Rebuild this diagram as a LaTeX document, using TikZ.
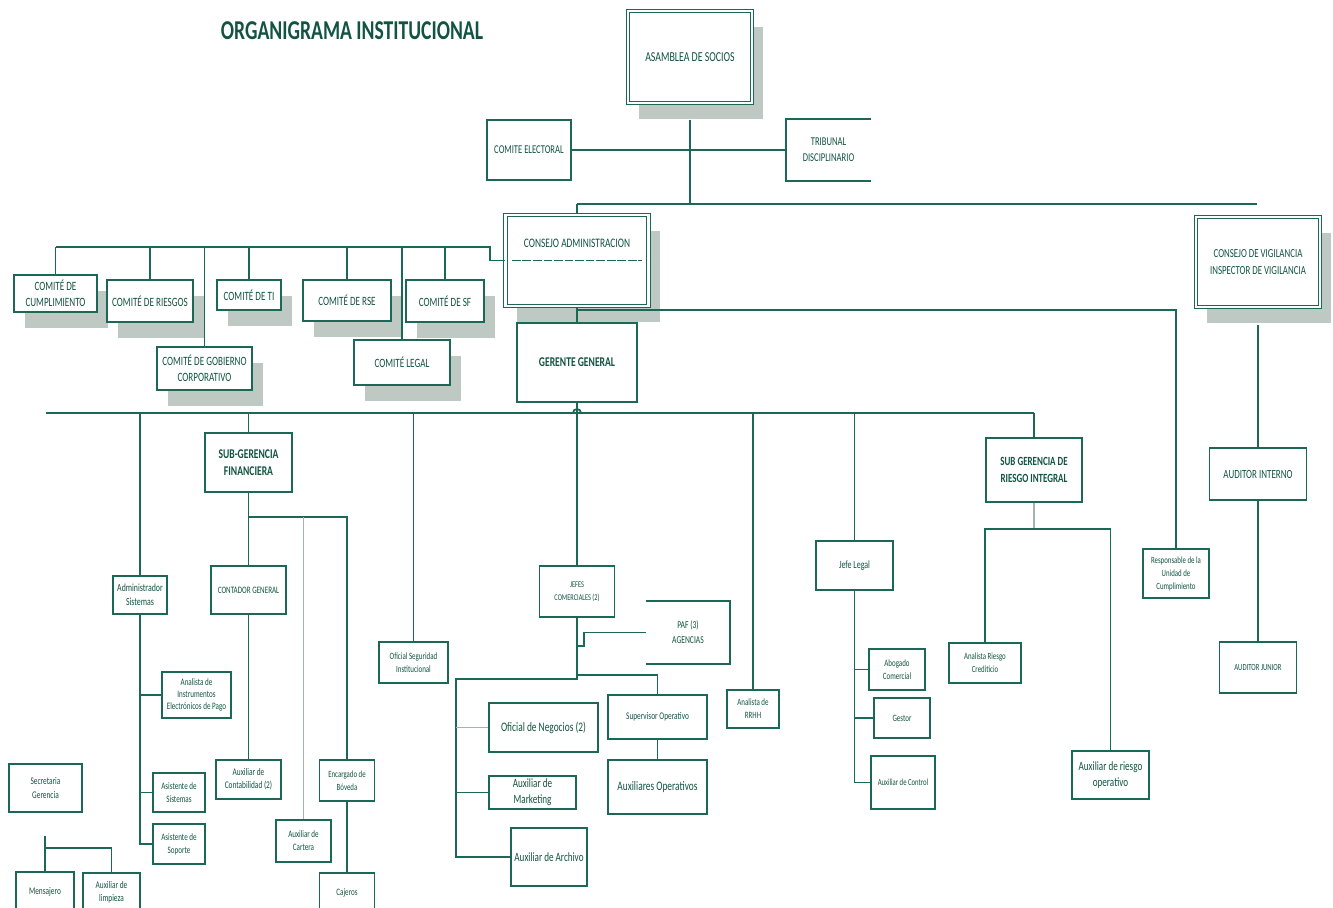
\documentclass[tikz,border=0pt]{standalone}
\usepackage{fontspec}
\setmainfont{Carlito}[FakeStretch=0.72]
\usetikzlibrary{shadows}

\definecolor{verde}{RGB}{28,104,86}
\definecolor{verdeT}{RGB}{18,84,64}
\definecolor{sombra}{RGB}{190,201,196}
\definecolor{gris}{RGB}{165,180,175}

\tikzset{
  sz/.style 2 args={minimum width=#1*0.02cm, minimum height=#2*0.02cm},
  fs/.style 2 args={font=\fontsize{#1}{#2}\selectfont},
  caja/.style={draw=verde, line width=1pt, fill=white, text=verdeT, align=center, inner sep=1pt, fs={6}{7.5}},
  negrita/.style={caja, font=\bfseries\fontsize{7.6}{9.8}\selectfont},
  sombreada/.style={drop shadow={shadow xshift=0.22cm, shadow yshift=-0.32cm, fill=sombra, opacity=1}},
  doble/.style={caja, sombreada, fs={7.8}{9.6}, line width=0.7pt, double=white, double distance=1.4pt},
  comite/.style={caja, sombreada, fs={7.2}{9.2}, line width=1.2pt},
  linea/.style={draw=verde, line width=1pt},
  lineaG/.style={draw=gris, line width=1pt},
}

\begin{document}
\begin{tikzpicture}[x=0.02cm, y=-0.02cm]
\useasboundingbox (0,0) rectangle (1333,907);
\clip (0,0) rectangle (1333,907);

%标题
\node (tit) at (352,31) [text=verdeT, font=\bfseries\fontsize{15.5}{18}\selectfont] {ORGANIGRAMA INSTITUCIONAL};

%第一层
\node (asam) at (690,57) [doble, sz={124}{92}] {ASAMBLEA DE SOCIOS};
\node (celec) at (529,150) [caja, sz={84}{60}, fs={6.8}{8.5}] {COMITE ELECTORAL};
\node (trib) at (828.5,150) [caja, draw=none, sz={83}{60}, fs={6.8}{9}] {TRIBUNAL\\DISCIPLINARIO};
\draw[linea] (trib.north east) -- (trib.north west) -- (trib.south west) -- (trib.south east);

\node (cadm) at (577,260.5) [doble, sz={143}{91},
  label={[text=verdeT, fs={7.4}{9}, yshift=0.35cm]center:CONSEJO ADMINISTRACION}] {};
\draw[linea, line width=0.6pt, dash pattern=on 5pt off 1pt] ([xshift=0.14cm]cadm.west) -- ([xshift=-0.14cm]cadm.east);
\node (cvig) at (1258,262) [doble, sz={124}{90}, fs={7}{9.6}] {CONSEJO DE VIGILANCIA\\INSPECTOR DE VIGILANCIA};

%comités
\foreach \n/\x/\y/\w/\h/\t in {
  ccump/55.5/293.5/83/37/{COMITÉ DE\\CUMPLIMIENTO},
  criesg/150/301/86/42/{COMITÉ DE RIESGOS},
  cti/249/295/64/30/{COMITÉ DE TI},
  cgob/204.5/368.5/95/43/{COMITÉ DE GOBIERNO\\CORPORATIVO},
  crse/347/300.5/88/41/{COMITÉ DE RSE},
  cleg/402/362.5/96/45/{COMITÉ LEGAL},
  csf/445/301/78/42/{COMITÉ DE SF}}
  \node (\n) at (\x,\y) [comite, sz={\w}{\h}] {\t};

\node (ger) at (577,362.5) [negrita, sz={120}{79}] {GERENTE GENERAL};

%第二层
\node (subfin) at (248.5,462.5) [negrita, sz={87}{59}] {SUB-GERENCIA\\FINANCIERA};
\node (subrie) at (1034,470) [negrita, sz={96}{64}, font=\bfseries\fontsize{7.1}{9.6}\selectfont] {SUB GERENCIA DE\\RIESGO INTEGRAL};
\node (audi) at (1258,474) [caja, sz={97}{52}, fs={7.1}{9}] {AUDITOR INTERNO};
\node (audj) at (1258,667.5) [caja, sz={77}{51}, fs={5.3}{7}] {AUDITOR JUNIOR};
\node (resp) at (1176,573.5) [caja, sz={66}{49}, fs={5.4}{7.4}] {Responsable de la\\Unidad de\\Cumplimiento};

%finanzas y sistemas
\node (adms) at (140,595) [caja, sz={54}{38}, fs={6.2}{8}] {Administrador\\Sistemas};
\node (contg) at (248.5,590) [caja, sz={75}{48}, fs={5.6}{7}] {CONTADOR GENERAL};
\node (anip) at (196.5,695) [caja, sz={69}{46}, fs={5.6}{7}] {Analista de\\Instrumentos\\Electrónicos de Pago};
\node (asis) at (179,792.5) [caja, sz={52}{39}, fs={5.6}{7.4}] {Asistente de\\Sistemas};
\node (asop) at (179,844) [caja, sz={52}{40}, fs={5.6}{7.4}] {Asistente de\\Soporte};
\node (auxcon) at (248.5,779.5) [caja, sz={65}{39}, fs={5.8}{7.4}] {Auxiliar de\\Contabilidad (2)};
\node (cart) at (303.5,841) [caja, sz={55}{42}, fs={5.6}{7.4}] {Auxiliar de\\Cartera};
\node (bov) at (347,780.5) [caja, sz={55}{41}, fs={5.4}{7.4}] {Encargado de\\Bóveda};
\node (caj) at (347,892.5) [caja, sz={55}{39}, fs={5.6}{7}] {Cajeros};
\node (secr) at (45.5,788) [caja, sz={73}{48}, fs={5.8}{7.6}] {Secretaria\\Gerencia};
\node (mens) at (45,892) [caja, sz={58}{40}, fs={5.8}{7}] {Mensajero};
\node (limp) at (111.5,892.5) [caja, sz={57}{39}, fs={5.8}{7.4}] {Auxiliar de\\limpieza};

%comercial
\node (ofseg) at (413.5,662.5) [caja, sz={69}{41}, fs={5.5}{7.4}] {Oficial Seguridad\\Institucional};
\node (jefes) at (577,591.5) [caja, sz={75}{51}, fs={5}{7.4}] {JEFES\\COMERCIALES (2)};
\node (paf) at (688,632.5) [caja, draw=none, sz={82}{61}, fs={6}{8.6}] {PAF (3)\\AGENCIAS};
\draw[linea] (paf.north west) -- (paf.north east) -- (paf.south east) -- (paf.south west);
\node (supop) at (657.5,717) [caja, sz={99}{44}, fs={5.8}{7}] {Supervisor Operativo};
\node (auxop) at (657.5,787) [caja, sz={99}{54}, fs={7.4}{9}] {Auxiliares Operativos};
\node (ofneg) at (543.5,727.5) [caja, sz={109}{49}, fs={7.4}{9}] {Oficial de Negocios (2)};
\node (amark) at (532.5,792.5) [caja, sz={87}{33}, inner sep=0pt, fs={7.2}{9}] {Auxiliar de\\Marketing};
\node (aarch) at (549,857) [caja, sz={76}{58}, fs={7.2}{9}] {Auxiliar de Archivo};
\node (rrhh) at (753,709) [caja, sz={52}{38}, fs={5.5}{7.4}] {Analista de\\RRHH};

%legal y riesgo
\node (jleg) at (854.5,565.5) [caja, sz={77}{49}, fs={6.3}{8}] {Jefe Legal};
\node (abog) at (897,669.5) [caja, sz={56}{41}, fs={5.5}{7.4}] {Abogado\\Comercial};
\node (gest) at (902,718) [caja, sz={56}{40}, fs={5.5}{7}] {Gestor};
\node (axctl) at (903,782.5) [caja, sz={64}{53}, fs={5.3}{7}] {Auxiliar de Control};
\node (anrc) at (985,663) [caja, sz={72}{40}, fs={5.4}{7.4}] {Analista Riesgo\\Crediticio};
\node (auxro) at (1110.5,775) [caja, sz={77}{48}, fs={7.2}{9.4}] {Auxiliar de riesgo\\operativo};

%连线
\coordinate (b2L) at (577,204);
\coordinate (b2R) at (1257,204);
\draw[linea] ([yshift=-0.32cm]asam.south) -- (asam.south |- b2L);
\draw[linea] (b2L) -- (b2R);
\draw[linea] (b2L) -- (cadm.north);
\draw[linea] (celec.east) -- (trib.west);

\coordinate (cbL) at (55.5,247);
\coordinate (cbR) at (490,247);
\draw[linea] (cadm.west) -| (cbR) -- (cbL);
\foreach \n in {ccump,criesg,cti,cgob,crse,cleg,csf}
  \draw[linea] (\n.north |- cbL) -- (\n.north);

\draw[linea] (cadm.south) -- (ger.north);
\coordinate (cr) at (577,310);
\draw[linea] (cr) -| (resp.north);
\draw[linea] ([yshift=-0.34cm]cvig.south) -- (audi.north);
\draw[linea] (audi.south) -- (audj.north);

\coordinate (b3L) at (46,413);
\coordinate (b3R) at (1034,413);
\draw[linea] (b3L) -- (b3R);
\draw[linea] ([xshift=-0.08cm]ger.south |- b3L) arc[start angle=180, end angle=360, radius=4];
\draw[linea] (ger.south) -- (jefes.north);
\foreach \n in {adms,subfin,ofseg,rrhh,jleg,subrie}
  \draw[linea] (\n.north |- b3L) -- (\n.north);

\coordinate (sfb) at (347,517);
\draw[linea] (subfin.south) -- (contg.north);
\draw[linea] (subfin.south |- sfb) -- (sfb) -- (bov.north);
\draw[lineaG] (cart.north |- sfb) -- (cart.north);
\draw[linea] (contg.south) -- (auxcon.north);
\draw[linea] (bov.south) -- (caj.north);

\draw[linea] (adms.south) |- (asop.west);
\foreach \n in {anip,asis}
  \draw[linea] (adms.south |- \n.west) -- (\n.west);

\coordinate (mtop) at (45,836);
\coordinate (mb) at (45,848);
\draw[linea] (mtop) -- (mens.north);
\draw[linea] (mb) -| (limp.north);

\coordinate (jp1) at (577,646);
\coordinate (jp2) at (577,675);
\coordinate (jp3) at (577,679);
\coordinate (ob) at (456,679);
\draw[linea] (jefes.south) -- (jp1) -- ++(7,0) |- (paf.west);
\draw[linea] (jp1) -- (jp3) -- (ob) |- (aarch.west);
\draw[linea] (jp2) -| (supop.north);
\draw[lineaG] (ob |- ofneg.west) -- (ofneg.west);
\draw[linea] (ob |- amark.west) -- (amark.west);
\draw[linea] (supop.south) -- (auxop.north);

\draw[linea] (jleg.south) |- (axctl.west);
\foreach \n in {abog,gest}
  \draw[linea] (jleg.south |- \n.west) -- (\n.west);

\coordinate (rbL) at (985,529);
\draw[lineaG] (subrie.south) -- (subrie.south |- rbL);
\draw[linea] (anrc.north) -- (rbL) -| (auxro.north);

\end{tikzpicture}
\end{document}
